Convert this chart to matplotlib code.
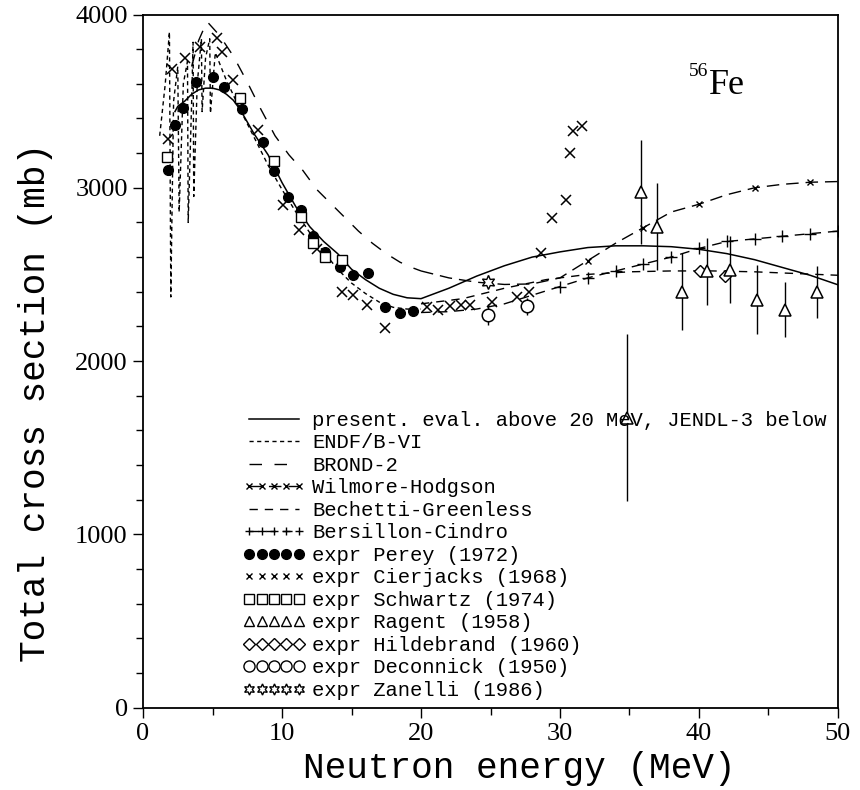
import numpy as np
import matplotlib
matplotlib.use("Agg")
import matplotlib.pyplot as plt
from matplotlib.lines import Line2D
from matplotlib.ticker import MultipleLocator

# ---------------- data ----------------
# present evaluation above 20 MeV, JENDL-3 below (solid)
solid_x = [2.3, 2.5, 3.0, 3.5, 4.0, 4.5, 5.0, 5.5, 6.0, 6.5, 7.0, 8.0, 9.0, 10.0, 11.0, 12.0,
           13.0, 14.0, 15.0, 16.0, 17.0, 18.0, 19.0, 20.0, 22, 24, 26, 28, 30, 32, 34, 36,
           38, 40, 42, 44, 46, 48, 50]
solid_y = [3440, 3470, 3500, 3540, 3565, 3575, 3575, 3565, 3540, 3505, 3450, 3310, 3190, 3030,
           2890, 2775, 2690, 2620, 2530, 2470, 2420, 2385, 2365, 2360, 2420, 2490, 2550, 2600,
           2630, 2655, 2665, 2665, 2660, 2645, 2620, 2585, 2540, 2495, 2440]

# ENDF/B-VI (short dashes)
endf_x = [1.2, 1.6, 1.9, 2.0, 2.2, 2.5, 2.6, 2.9, 3.2, 3.25, 3.5, 3.6, 3.65, 3.9, 4.2, 4.25,
          4.5, 4.8, 4.85, 5.2, 5.6, 6.0, 7.0, 8.0, 9.0, 10.0, 11.0, 12.0, 13.0, 14.0, 15.0,
          16.0, 17.0, 18.0, 19.0, 20.0]
endf_y = [3300, 3600, 3900, 2370, 3500, 3700, 2860, 3600, 3730, 2800, 3500, 3840, 2950, 3600,
          3860, 3440, 3750, 3860, 3430, 3780, 3700, 3620, 3450, 3290, 3130, 2990, 2860, 2740,
          2630, 2530, 2450, 2390, 2340, 2310, 2300, 2300]

# BROND-2 (long dashes)
brond_x = [3.5, 4.0, 4.6, 5.5, 6.5, 7.5, 8.5, 9.5, 10.5, 11.5, 12.5, 13.5, 14.5, 15.5, 16.5,
           17.5, 18.5, 19.5, 20.0]
brond_y = [3700, 3850, 3960, 3880, 3760, 3610, 3450, 3300, 3190, 3100, 2990, 2910, 2830, 2750,
           2680, 2620, 2570, 2535, 2520]

# optical model curves above 20 MeV
wh_x = [20, 22, 24, 26, 28, 30, 32, 34, 36, 38, 40, 42, 44, 46, 48, 50]
wh_y = [2520, 2480, 2455, 2442, 2445, 2480, 2580, 2680, 2770, 2860, 2905, 2960, 3000, 3020, 3032, 3036]

bg_x = [20, 23, 26, 29, 32, 35, 38, 41, 44, 47, 50]
bg_y = [2330, 2360, 2420, 2470, 2500, 2515, 2520, 2520, 2515, 2505, 2495]

bc_x = [20, 22, 24, 26, 28, 30, 32, 34, 36, 38, 40, 42, 44, 46, 48, 50]
bc_y = [2280, 2285, 2300, 2330, 2380, 2430, 2480, 2520, 2560, 2600, 2650, 2690, 2705, 2720, 2735, 2750]

# experimental data
perey_x = [1.8, 2.3, 2.9, 3.8, 5.0, 5.8, 7.1, 8.6, 9.4, 10.4, 11.4, 12.2, 13.1, 14.2, 15.1,
           16.2, 17.4, 18.5, 19.4]
perey_y = [3105, 3365, 3463, 3613, 3642, 3584, 3452, 3267, 3094, 2944, 2874, 2719, 2632, 2540,
           2494, 2511, 2309, 2280, 2286]

cier_x = [1.8, 2.1, 3.0, 4.1, 5.3, 5.7, 6.5, 8.3, 10.1, 11.2, 12.5, 14.3, 15.1, 16.1, 17.4,
          20.4, 21.2, 22.1, 22.9, 23.5, 25.1, 26.9, 27.8, 28.6, 29.4, 30.4, 30.7, 30.9, 31.6]
cier_y = [3279, 3683, 3752, 3810, 3867, 3786, 3625, 3336, 2903, 2759, 2644, 2401, 2384, 2326,
          2193, 2309, 2297, 2315, 2326, 2326, 2343, 2372, 2401, 2626, 2828, 2932, 3203, 3325, 3359]

schw_x = [1.7, 7.0, 9.4, 11.4, 12.2, 13.1, 14.3]
schw_y = [3180, 3521, 3152, 2834, 2684, 2603, 2586]

rag_x = [34.8, 35.8, 37.0, 38.8, 40.6, 42.2, 44.2, 46.2, 48.5]
rag_y = [1674, 2978, 2776, 2401, 2517, 2528, 2355, 2297, 2401]
rag_err = [480, 300, 250, 220, 195, 195, 200, 160, 150]

hild_x = [40.1, 41.9]
hild_y = [2517, 2488]

deco_x = [24.8, 27.6]
deco_y = [2268, 2315]
deco_err = [60, 50]

zan_x = [24.8]
zan_y = [2459]
zan_err = [40]

legend_labels = [
    "present. eval. above 20 MeV, JENDL-3 below",
    "ENDF/B-VI",
    "BROND-2",
    "Wilmore-Hodgson",
    "Bechetti-Greenless",
    "Bersillon-Cindro",
    "expr Perey (1972)",
    "expr Cierjacks (1968)",
    "expr Schwartz (1974)",
    "expr Ragent (1958)",
    "expr Hildebrand (1960)",
    "expr Deconnick (1950)",
    "expr Zanelli (1986)",
]

# ---------------- figure ----------------
fig = plt.figure(figsize=(8.6, 7.9), dpi=100)
ax = fig.add_axes([0.1663, 0.1044, 0.8081, 0.8772])

K = "black"
ls_endf = (0, (3.0, 2.5))
ls_brond = (0, (9, 9))
ls_wh = (0, (9, 5))
ls_bg = (0, (6, 5))
ls_bc = (0, (7, 5))

ax.plot(solid_x, solid_y, color=K, lw=1.1, ls="-")
ax.plot(endf_x, endf_y, color=K, lw=1.0, ls=ls_endf)
ax.plot(brond_x, brond_y, color=K, lw=1.0, ls=ls_brond)
ax.plot(wh_x, wh_y, color=K, lw=1.0, ls=ls_wh, marker="x", ms=5, mew=1.0,
        markevery=(6, 2))
ax.plot(bg_x, bg_y, color=K, lw=1.0, ls=ls_bg)
ax.plot(bc_x, bc_y, color=K, lw=1.0, ls=ls_bc, marker="+", ms=9, mew=1.0,
        markevery=(5, 1))

ax.plot(perey_x, perey_y, ls="none", marker="o", ms=7, mfc=K, mec=K)
ax.plot(cier_x, cier_y, ls="none", marker="x", ms=6.5, mew=1.1, color=K)
ax.plot(schw_x, schw_y, ls="none", marker="s", ms=7, mfc="white", mec=K, mew=1.0)
ax.errorbar(rag_x, rag_y, yerr=rag_err, ls="none", marker="^", ms=9, mfc="white",
            mec=K, mew=1.1, ecolor=K, elinewidth=1.0, capsize=0)
ax.plot(hild_x, hild_y, ls="none", marker="D", ms=6, mfc="white", mec=K, mew=1.0)
ax.errorbar(deco_x, deco_y, yerr=deco_err, ls="none", marker="o", ms=9, mfc="white",
            mec=K, mew=1.1, ecolor=K, elinewidth=1.0, capsize=0)
ax.errorbar(zan_x, zan_y, yerr=zan_err, ls="none", marker=(6, 1, 0), ms=10, mfc="white",
            mec=K, mew=1.0, ecolor=K, elinewidth=1.0, capsize=0)

ax.set_xlim(0, 50)
ax.set_ylim(0, 4000)

ax.xaxis.set_major_locator(MultipleLocator(10))
ax.xaxis.set_minor_locator(MultipleLocator(5))
ax.yaxis.set_major_locator(MultipleLocator(1000))
ax.yaxis.set_minor_locator(MultipleLocator(200))
ax.tick_params(which="major", direction="out", length=7, width=1.0, color=K, pad=4)
ax.tick_params(which="minor", direction="out", length=5, width=1.0, color=K)
for lab in ax.get_xticklabels() + ax.get_yticklabels():
    lab.set_fontfamily("Liberation Serif")
    lab.set_fontsize(19)
for sp in ax.spines.values():
    sp.set_linewidth(1.3)
    sp.set_color(K)

labfont = {"family": "Liberation Mono", "size": 26}
ax.set_xlabel("Neutron energy (MeV)", fontdict=labfont)
ax.set_ylabel("Total cross section (mb)", fontdict=labfont)
ax.xaxis.set_label_coords(0.542, -0.063)
ax.yaxis.set_label_coords(-0.13, 0.44)

# 56Fe label
ax.text(39.3, 3670, "56", fontfamily="Liberation Serif", fontsize=14, ha="left", va="center")
ax.text(40.7, 3590, "Fe", fontfamily="Liberation Serif", fontsize=26, ha="left", va="center")

# legend
handles = [
    Line2D([], [], color=K, lw=1.1, ls="-"),
    Line2D([], [], color=K, lw=1.0, ls=ls_endf),
    Line2D([], [], color=K, lw=1.0, ls=ls_brond),
    Line2D([], [], color=K, lw=1.0, ls=ls_wh, marker="x", ms=4, markevery=2),
    Line2D([], [], color=K, lw=1.0, ls=ls_bg),
    Line2D([], [], color=K, lw=1.0, ls=ls_bc, marker="+", ms=6, markevery=1),
    Line2D([], [], ls="none", marker="o", ms=7, mfc=K, mec=K),
    Line2D([], [], ls="none", marker="x", ms=5, mew=1.0, color=K),
    Line2D([], [], ls="none", marker="s", ms=6.5, mfc="white", mec=K),
    Line2D([], [], ls="none", marker="^", ms=7, mfc="white", mec=K),
    Line2D([], [], ls="none", marker="D", ms=6, mfc="white", mec=K),
    Line2D([], [], ls="none", marker="o", ms=8, mfc="white", mec=K),
    Line2D([], [], ls="none", marker=(6, 1, 0), ms=8, mfc="white", mec=K),
]
leg = ax.legend(handles, legend_labels, loc="upper left", bbox_to_anchor=(0.144, 0.428),
                frameon=False, numpoints=5, handlelength=3.0, handletextpad=0.35,
                labelspacing=0.17, borderpad=0, borderaxespad=0,
                prop={"family": "Liberation Mono", "size": 14.8})

fig.savefig("out.png", dpi=100, facecolor="white")
